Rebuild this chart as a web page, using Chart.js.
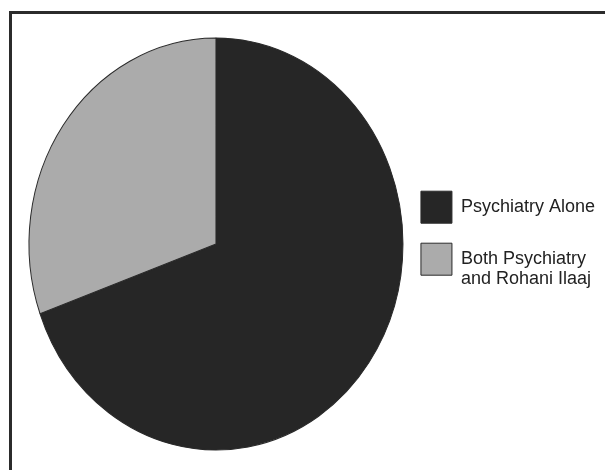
<!DOCTYPE html>
<html>
<head>
<meta charset="utf-8">
<script src="https://cdn.jsdelivr.net/npm/chart.js@4/dist/chart.umd.min.js"></script>
<style>
  html, body { margin: 0; padding: 0; background: #fff; overflow: hidden; }
  #frame { position: absolute; left: 9px; top: 11px; width: 700px; height: 600px;
           border-left: 3px solid #2b2b2b; border-top: 3px solid #2b2b2b; box-sizing: border-box; }
  #wrap { position: absolute; left: 0; top: 0; width: 605px; height: 470px; }
</style>
</head>
<body>
<div id="frame"></div>
<div id="wrap"><canvas id="c"></canvas></div>
<script>
const categories = ["Psychiatry Alone", ["Both Psychiatry", "and Rohani Ilaaj"]];
const shares = [69.5, 30.5];
const sliceColors = ["#262626", "#ababab"];

const ellipse = {
  id: 'ellipse',
  beforeDatasetsDraw(chart) {
    const a = chart.getDatasetMeta(0).data[0];
    const ctx = chart.ctx;
    ctx.save();
    ctx.translate(a.x, a.y);
    ctx.scale(1, 206 / 187);
    ctx.translate(-a.x, -a.y);
  },
  afterDatasetsDraw(chart) { chart.ctx.restore(); }
};

new Chart(document.getElementById('c'), {
  type: 'pie',
  data: {
    labels: categories,
    datasets: [{
      data: shares,
      backgroundColor: sliceColors,
      borderColor: "#2a2a2a",
      borderWidth: 1
    }]
  },
  options: {
    responsive: true,
    maintainAspectRatio: false,
    animation: false,
    radius: 187,
    layout: { padding: { left: 31, top: 50, bottom: 46, right: 0 } },
    plugins: {
      tooltip: { enabled: false },
      title: {
        display: true,
        text: '',
        position: 'top',
        fullSize: false,
        padding: 0,
        font: { size: 14, lineHeight: 1 }
      },
      legend: {
        position: 'right',
        labels: {
          boxWidth: 31,
          boxHeight: 32,
          padding: 20,
          color: '#222',
          font: { family: "'Liberation Sans', Arial, sans-serif", size: 18, lineHeight: 1.1 }
        }
      }
    }
  },
  plugins: [ellipse]
});
</script>
</body>
</html>
